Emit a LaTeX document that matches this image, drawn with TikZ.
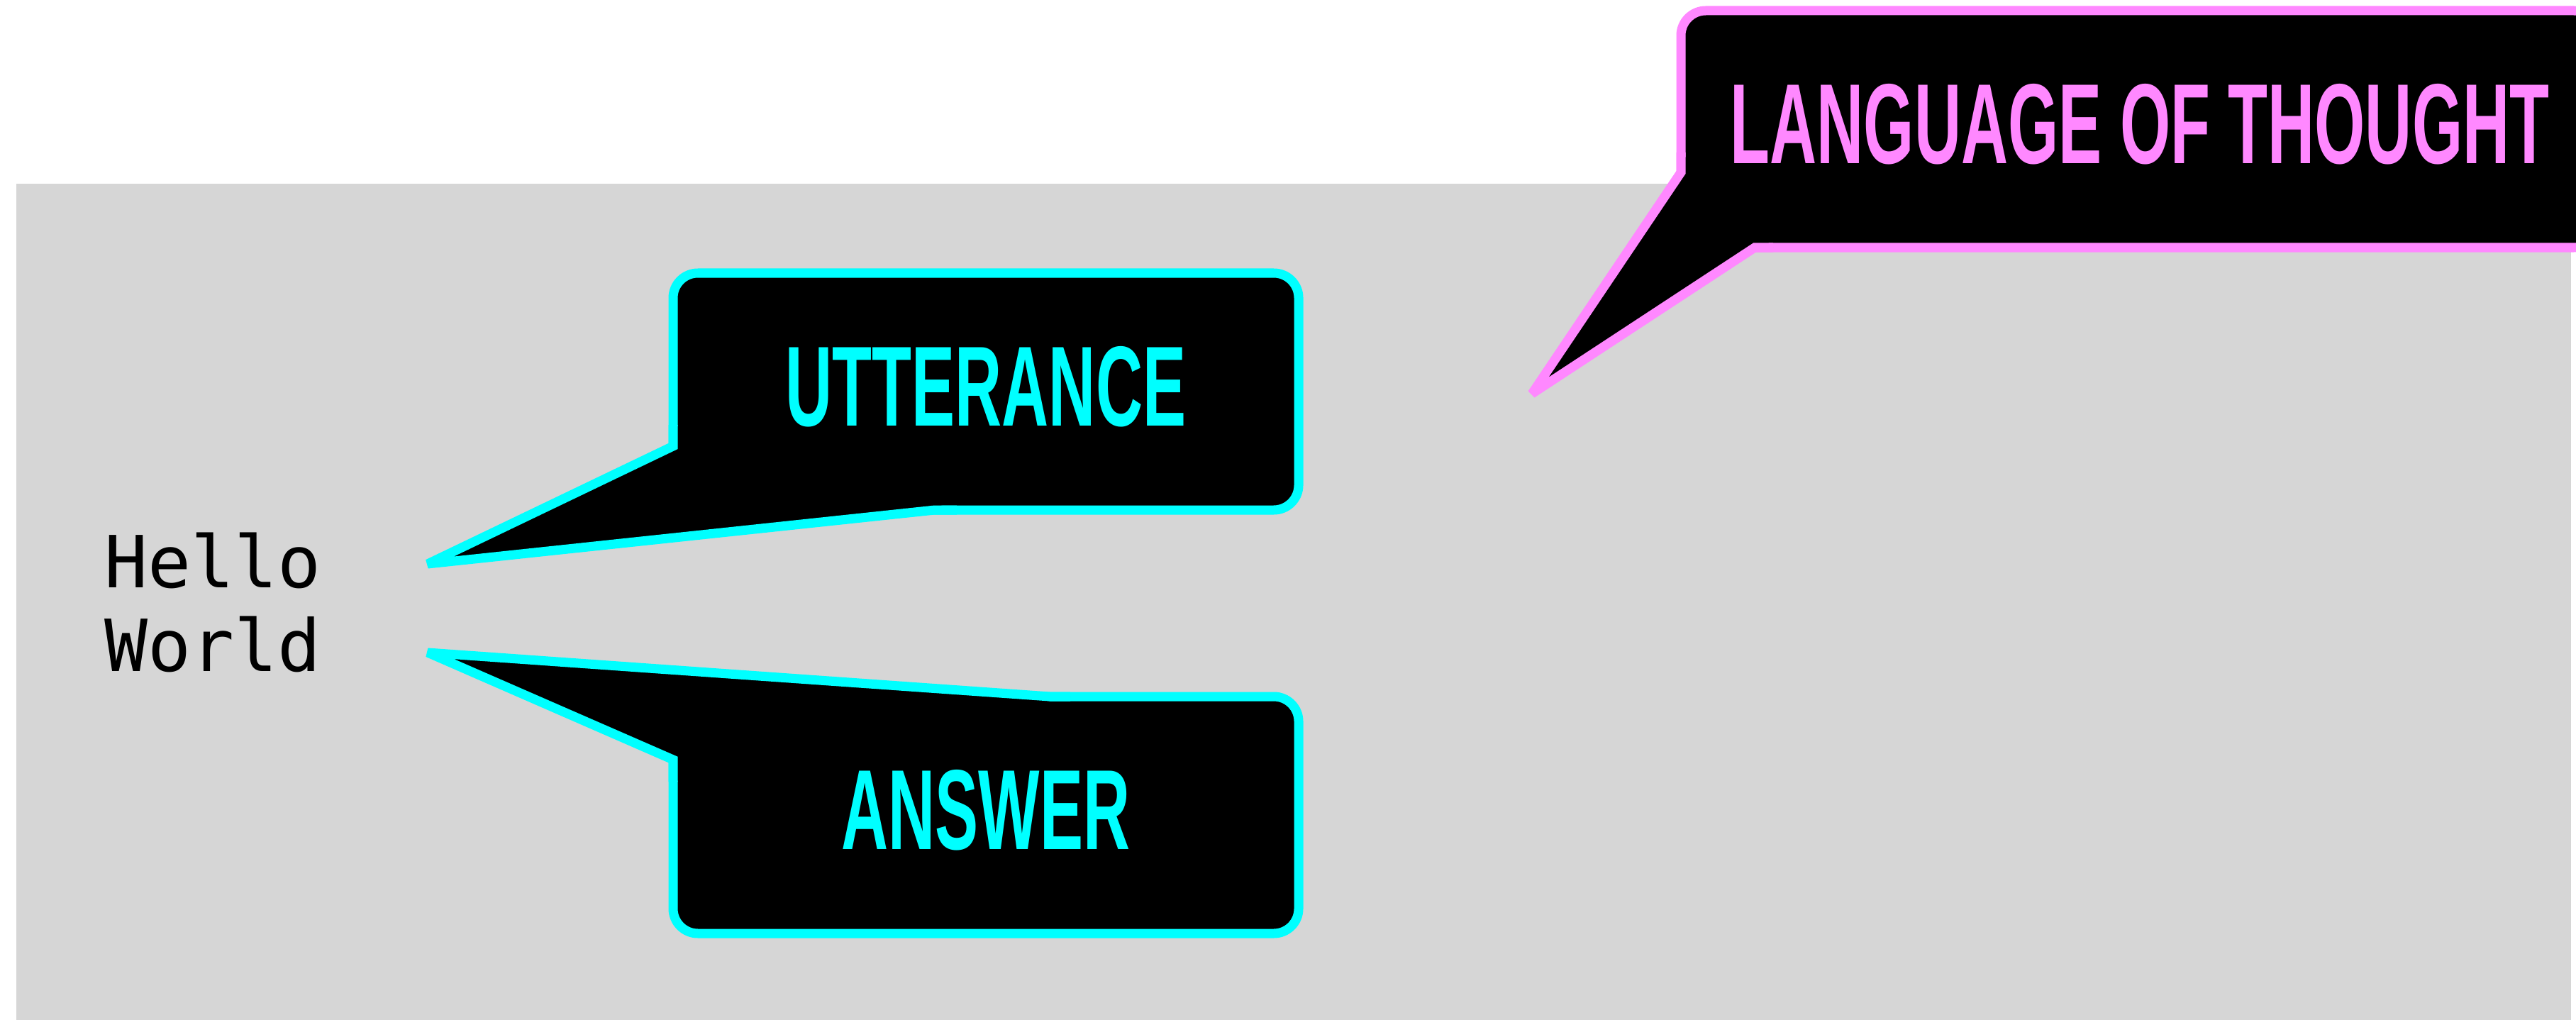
\documentclass[tikz,border=0pt]{standalone}
\usepackage{fontspec}
\usetikzlibrary{positioning, calc}
\newfontfamily\boxfont{Liberation Sans}[FakeStretch=0.57]
\newfontfamily\codefont{DejaVu Sans Mono}
\definecolor{bgGrey}{HTML}{D6D6D6}
\definecolor{sayCyan}{HTML}{00FFFF}
\definecolor{thinkPink}{HTML}{FF88FF}
\tikzset{
  bubble/.style   = {rectangle, fill=black, draw=#1, text=#1, line width=3.7pt,
                     rounded corners=0.35cm, minimum width=8.82cm, minimum height=3.34cm,
                     inner sep=0pt, outer sep=0pt, text depth=0.15cm,
                     font=\boxfont\bfseries\fontsize{45.7pt}{50pt}\selectfont},
  tail/.style     = {draw=#1, fill=black, line width=3.7pt, miter limit=2},
  codetxt/.style  = {align=left, inner sep=0pt,
                     font=\codefont\fontsize{28.85pt}{33.7pt}\selectfont},
}

\begin{document}
\begin{tikzpicture}[x=1cm,y=1cm]
  \useasboundingbox (0,0) rectangle (36.32,-14.38);
  \fill[bgGrey] (0.23,-2.59) rectangle (36.25,-14.38);

  % the words and where the speech bubbles point
  \node[codetxt, anchor=north west] (msg) at (1.47,-7.50) {Hello\\World};
  \coordinate (uttTip) at (6.03,-7.95);
  \coordinate (ansTip) at (6.03,-9.20);
  \coordinate (lotTip) at (21.60,-5.55);

  % speech bubbles
  \node[bubble=sayCyan] (utt) at (13.90,-5.52) {UTTERANCE};
  \node[bubble=sayCyan, below=2.63cm of utt] (ans) {ANSWER};
  \node[bubble=thinkPink, minimum width=12.94cm] (lot) at (30.17,-1.82) {LANGUAGE OF THOUGHT};

  % tails (each starts and ends a little way along the box edge)
  \draw[tail=sayCyan] ([yshift=1.2cm]utt.south west) -- ([yshift=0.9cm]utt.south west) -- (uttTip)
    -- ([xshift=3.69cm]utt.south west) -- ([xshift=4cm]utt.south west);
  \draw[tail=sayCyan] ([yshift=-1.2cm]ans.north west) -- ([yshift=-0.89cm]ans.north west) -- (ansTip)
    -- ([xshift=5.31cm]ans.north west) -- ([xshift=5.6cm]ans.north west);
  \draw[tail=thinkPink] ([yshift=-2cm]lot.north west) -- ([yshift=-2.28cm]lot.north west) -- (lotTip)
    -- ([xshift=1.04cm]lot.south west) -- ([xshift=1.3cm]lot.south west);
\end{tikzpicture}
\end{document}
